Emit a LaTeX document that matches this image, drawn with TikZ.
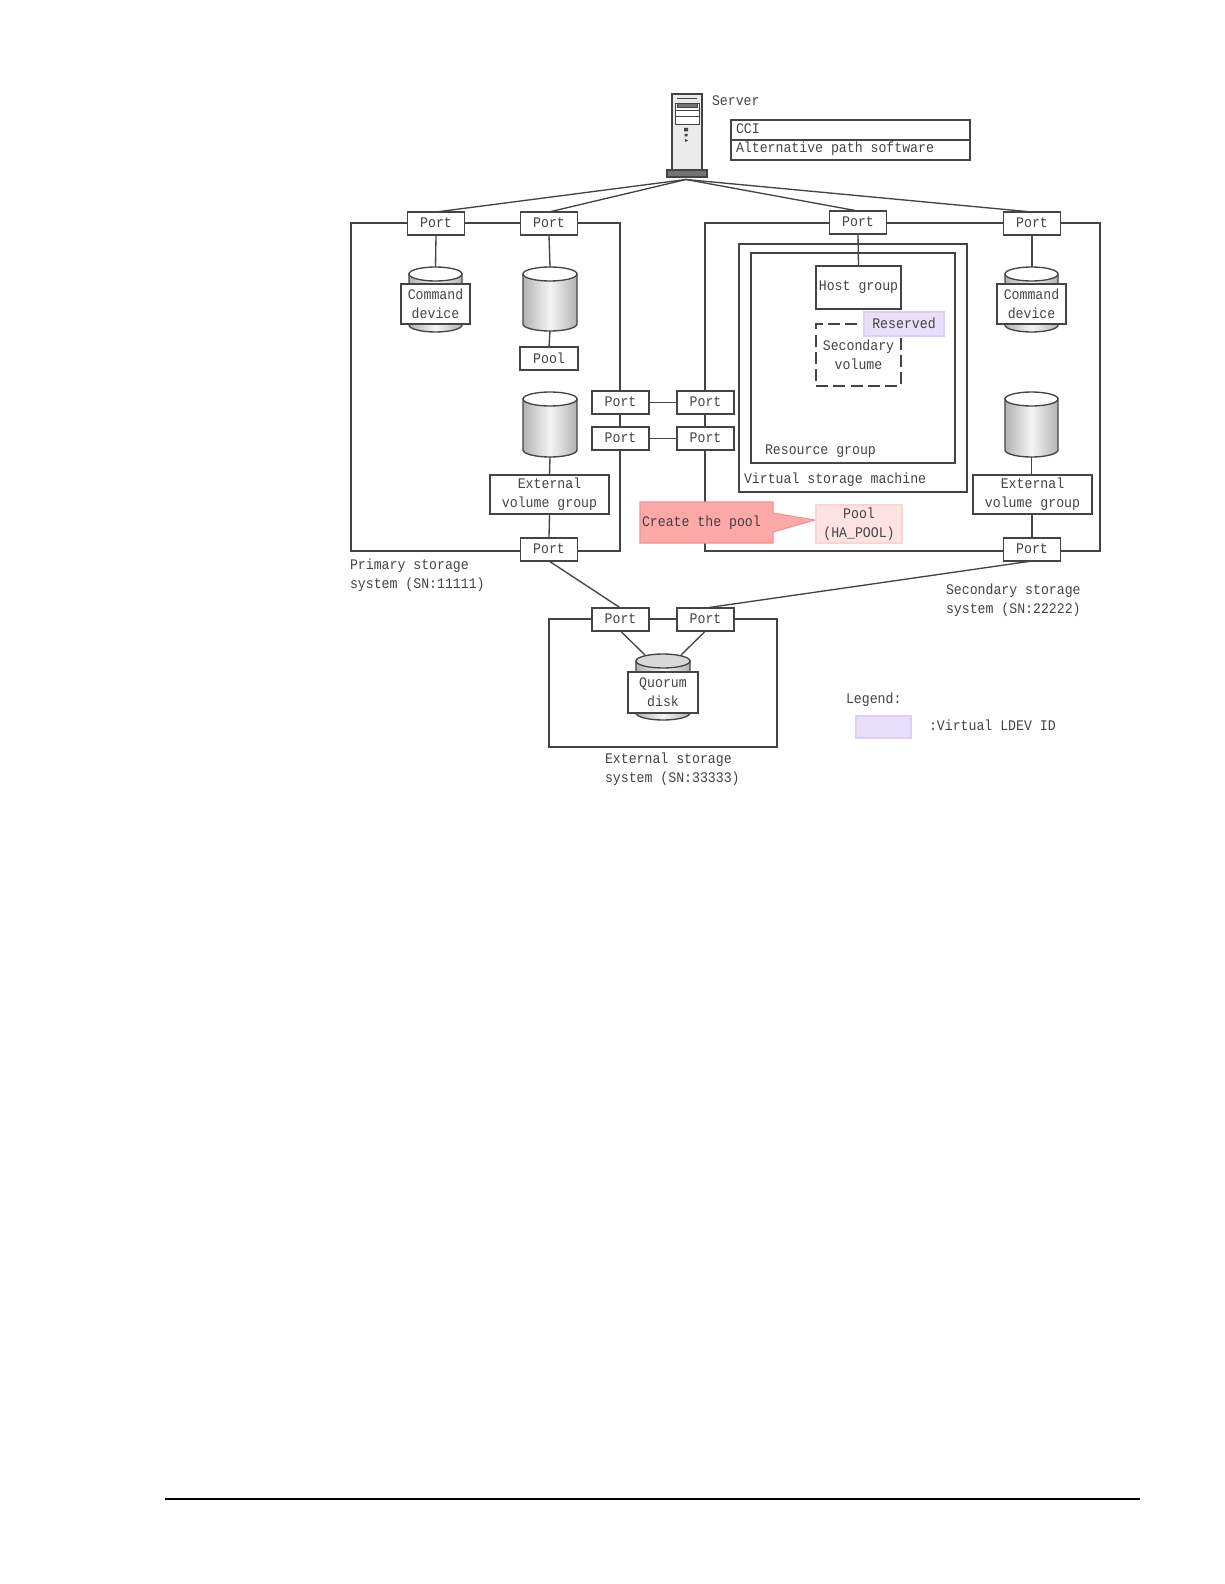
\documentclass[tikz,border=0pt]{standalone}
\usepackage{fontspec}
\setmainfont[FakeStretch=0.9]{Liberation Mono}
\definecolor{ink}{HTML}{444444}
\definecolor{txt}{HTML}{444444}
\definecolor{lav}{HTML}{E8DFFA}
\definecolor{lavedge}{HTML}{DDD0F4}
\definecolor{pinkbox}{HTML}{FFE3E3}
\definecolor{pinkedge}{HTML}{FBD3D3}
\definecolor{callfill}{HTML}{FFA8A8}
\definecolor{calledge}{HTML}{F79090}
\tikzset{
  line/.style={draw=ink,line width=1pt},
  thin line/.style={draw=ink,line width=1pt},
  detail/.style={draw=ink,line width=0.7pt},
  bx/.style={line,fill=white,inner sep=0pt,outer sep=0pt,align=center,text=txt,
    font=\fontsize{11}{14.25}\selectfont},
  lbl/.style={inner sep=0pt,outer sep=0pt,text=txt,align=left,anchor=west,
    font=\fontsize{11}{14.25}\selectfont},
  container/.style={line},
}
% [style]{name}{x1}{y1}{x2}{y2}{text}
\newcommand{\bxnode}[7][]{\node[bx,minimum width={(#5-#3)*0.75pt},minimum height={(#6-#4)*0.75pt},#1] (#2) at ({(#3+#5)/2},{(#4+#6)/2}) {#7};}
\newcommand{\portnode}[3]{\node[bx,minimum width=42.75pt,minimum height=17.25pt] (#1) at (#2,#3) {\raisebox{1.1pt}{Port}};}
% {name}{x1}{y1}{x2}{y2}{cap colour}
\newcommand{\cylnode}[6]{%
  \node[inner sep=0pt,outer sep=0pt,minimum width={(#4-#2)*0.75pt},minimum height={(#5-#3)*0.75pt}] (#1) at ({(#2+#4)/2},{(#3+#5)/2}) {};
  \path[line,left color=gray!60,right color=gray!60,middle color=gray!8]
    (#2,#3+7) -- (#2,#5-7) arc[start angle=180,end angle=0,x radius={(#4-#2)/2},y radius=7] -- (#4,#3+7) -- cycle;
  \path[line,fill=#6] ({(#2+#4)/2},#3+7) ellipse[x radius={(#4-#2)/2},y radius=7];
}
\begin{document}
\begin{tikzpicture}[x=0.75pt,y=-0.75pt]
\useasboundingbox (0,0) rectangle (1224,1584);
\fill[white] (0,0) rectangle (1224,1584);

% containers
\draw[container] (351,223) rectangle (620,551);
\draw[container] (705,223) rectangle (1100,551);
\draw[container] (549,619) rectangle (777,747);
\draw[container] (739,244) rectangle (967,492);
\draw[container] (751,253) rectangle (955,463);

% server
\draw[line,fill=black!8] (672,94) rectangle (702,170);
\draw[detail,fill=white] (675,103) rectangle (699,124);
\draw[detail,fill=black!55] (677,103.500) rectangle (697,107);
\draw[detail] (675,110.500) -- (699,110.500) (675,116) -- (699,116);
\draw[detail] (677,98) -- (697,98);
\fill[ink] (684,128) rectangle (688,131.500) (684.500,134) rectangle (687.500,136.500);
\fill[ink] (685,139) -- (688,140.500) -- (685,142) -- cycle;
\node[line,fill=black!55,inner sep=0pt,outer sep=0pt,minimum width=30pt,minimum height=5.25pt] (server) at (687,173.500) {};
\coordinate (hub) at (686,179.500);
\node[lbl] (serverlabel) at (712,101) {Server};
\bxnode{cci}{731}{120}{970}{140}{}
\bxnode{altpath}{731}{140}{970}{160}{}
\node[lbl] (ccitext) at (736,128.500) {CCI};
\node[lbl] (alttext) at (736,149) {Alternative path software};

% cylinders
\cylnode{cmdA}{409}{267}{462}{332}{white}
\cylnode{volA}{523}{267}{577}{331}{white}
\cylnode{extA}{523}{392}{577}{457}{white}
\cylnode{cmdB}{1005}{267}{1058}{332}{white}
\cylnode{extB}{1005}{392}{1058}{457}{white}
\cylnode{quorum}{636}{654}{690}{720}{black!15}

% ports
\portnode{p1}{436}{223.500}
\portnode{p2}{549}{223.500}
\portnode{p3}{858}{222.500}
\portnode{p4}{1032}{223.500}
\portnode{mL1}{620.500}{402.500}
\portnode{mR1}{705.500}{402.500}
\portnode{mL2}{620.500}{438.500}
\portnode{mR2}{705.500}{438.500}
\portnode{pBotA}{549}{549.500}
\portnode{pBotB}{1032}{549.500}
\portnode{eL}{620.500}{619.500}
\portnode{eR}{705.500}{619.500}

% boxes
\bxnode{cmdAbox}{401}{284}{470}{324}{Command\\device}
\bxnode{cmdBbox}{997}{284}{1066}{324}{Command\\device}
\bxnode{poolA}{520}{347}{578}{370}{\raisebox{1.1pt}{Pool}}
\bxnode{evgA}{490}{475}{609}{514}{External\\volume group}
\bxnode{evgB}{973}{475}{1092}{514}{External\\volume group}
\bxnode{hostgroup}{816}{266}{901}{309}{Host group}
\bxnode[dashed,dash pattern=on 9pt off 4pt]{secvol}{816}{324}{901}{386}{Secondary\\volume}
\bxnode[draw=lavedge,line width=0.9pt,fill=lav]{reserved}{864}{312}{944}{336}{\raisebox{0.7pt}{Reserved}}
\bxnode{qbox}{628}{672}{698}{713}{Quorum\\disk}

% callout
\filldraw[fill=callfill,draw=calledge,line width=0.8pt]
  (640,502) -- (773,502) -- (773,513) -- (815,520) -- (773,532) -- (773,543) -- (640,543) -- cycle;
\node[lbl,text=black!75] (calltext) at (642,523) {Create the pool};
\bxnode[draw=pinkedge,line width=0.9pt,fill=pinkbox]{poolB}{816}{505}{902}{543}{Pool\\(HA\_POOL)}

% connectors
\draw[thin line] (hub) -- (p1.north);
\draw[thin line] (hub) -- (p2.north);
\draw[thin line] (hub) -- (p3.north);
\draw[thin line] (hub) -- (p4.north);
\draw[thin line] (p1.south) -- (cmdA.north);
\draw[thin line] (p2.south) -- (volA.north);
\draw[thin line] (volA.south) -- (poolA.north);
\draw[thin line] (extA.south) -- (evgA.north);
\draw[thin line] (evgA.south) -- (pBotA.north);
\draw[thin line] (p3.south) -- (hostgroup.north);
\draw[thin line] (p4.south) -- (cmdB.north -| p4.south);
\draw[thin line] (extB.south) -- (evgB.north -| extB.south);
\draw[thin line] (evgB.south -| pBotB.north) -- (pBotB.north);
\draw[thin line] (mL1.east) -- (mR1.west);
\draw[thin line] (mL2.east) -- (mR2.west);
\draw[thin line] (pBotA.south) -- (eL.north);
\draw[thin line] (pBotB.south) -- (eR.north);
\draw[thin line] (eL.south) -- ([xshift=-13.5pt,yshift=-0.75pt]quorum.north);
\draw[thin line] (eR.south) -- ([xshift=13.5pt,yshift=-0.75pt]quorum.north);

% captions
\node[lbl] (primcap) at (350,575) {Primary storage\\system (SN:11111)};
\node[lbl] (seccap) at (946,600) {Secondary storage\\system (SN:22222)};
\node[lbl] (extcap) at (605,769) {External storage\\system (SN:33333)};
\node[lbl] (legend) at (846,700) {Legend:};
\bxnode[draw=lavedge,line width=0.9pt,fill=lav]{swatch}{856}{716}{911}{738}{}
\node[lbl] (legendtext) at (929,725) {:Virtual LDEV ID};
\node[lbl] (rgcap) at (765,451) {Resource group};
\node[lbl] (vsmcap) at (744,480) {Virtual storage machine};

% page rule
\draw[line width=0.9pt,draw=black] (165,1499) -- (1140,1499);
\end{tikzpicture}
\end{document}
